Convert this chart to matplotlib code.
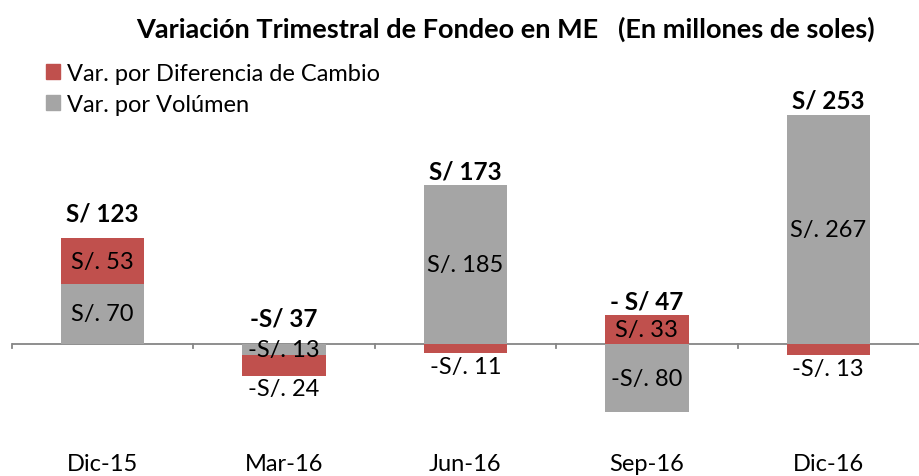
import matplotlib.pyplot as plt
from matplotlib.patches import Patch

plt.rcParams['font.family'] = ['Lato', 'DejaVu Sans']

periodos = ['Dic-15', 'Mar-16', 'Jun-16', 'Sep-16', 'Dic-16']
var_volumen = [70, -13, 185, -80, 267]
var_cambio = [53, -24, -11, 33, -13]
totales = ['S/ 123', '-S/ 37', 'S/ 173', '- S/ 47', 'S/ 253']
lab_volumen = ['S/. 70', '-S/. 13', 'S/. 185', '-S/. 80', 'S/. 267']
lab_cambio = ['S/. 53', '-S/. 24', '-S/. 11', 'S/. 33', '-S/. 13']

c_rojo = '#C0504D'
c_gris = '#A5A5A5'

fig = plt.figure(figsize=(9.19, 4.77), dpi=100)
ax = fig.add_axes([0.013, 0.1153, 0.987, 0.6834])

x = range(len(periodos))
w = 0.46
# red stacks on gray when same sign, otherwise starts at zero
base_cambio = [v if (v > 0) == (c > 0) else 0 for v, c in zip(var_volumen, var_cambio)]
ax.bar(x, var_volumen, w, color=c_gris, zorder=2)
ax.bar(x, var_cambio, w, bottom=base_cambio, color=c_rojo, zorder=2)

fs = 17
for i in x:
    v, c, b = var_volumen[i], var_cambio[i], base_cambio[i]
    ax.text(i, v / 2, lab_volumen[i], ha='center', va='center', fontsize=fs, zorder=3)
    if c > 0:
        ax.text(i, b + c / 2, lab_cambio[i], ha='center', va='center', fontsize=fs, zorder=3)
    else:
        ax.annotate(lab_cambio[i], (i, b + c), xytext=(0, -2), textcoords='offset points',
                    ha='center', va='top', fontsize=fs)
    top = max(0, v, b + c)
    ax.annotate(totales[i], (i, top), xytext=(0, 2 if i not in (0, 1) else 10),
                textcoords='offset points', ha='center', va='bottom',
                fontsize=17.5, fontweight='bold')

ax.set_xlim(-0.5, 4.5)
ax.set_ylim(-90, 290)
ax.axhline(0, color='#868686', lw=1.3, zorder=1)
for t in [-0.5, 0.5, 1.5, 2.5, 3.5]:
    ax.plot([t, t], [0, -5], color='#868686', lw=1.3, clip_on=False)
for s in ax.spines.values():
    s.set_visible(False)
ax.set_yticks([])
ax.set_xticks([])
for i in x:
    fig.text(0.013 + 0.987 * (i + 0.5) / 5, 1 - 465 / 477, periodos[i],
             ha='center', va='center', fontsize=17)

fig.text(0.55, 1 - 29 / 477, 'Variación Trimestral de Fondeo en ME   (En millones de soles)',
         ha='center', va='center', fontsize=19.5, fontweight='bold')

handles = [Patch(color=c_rojo, label='Var. por Diferencia de Cambio'),
           Patch(color=c_gris, label='Var. por Volúmen')]
fig.legend(handles=handles, loc='upper left', bbox_to_anchor=(0.04, 0.885), frameon=False,
           fontsize=17, handlelength=0.6, handleheight=0.6, handletextpad=0.3,
           labelspacing=0.42, borderaxespad=0)

fig.savefig('out.png', dpi=100)
